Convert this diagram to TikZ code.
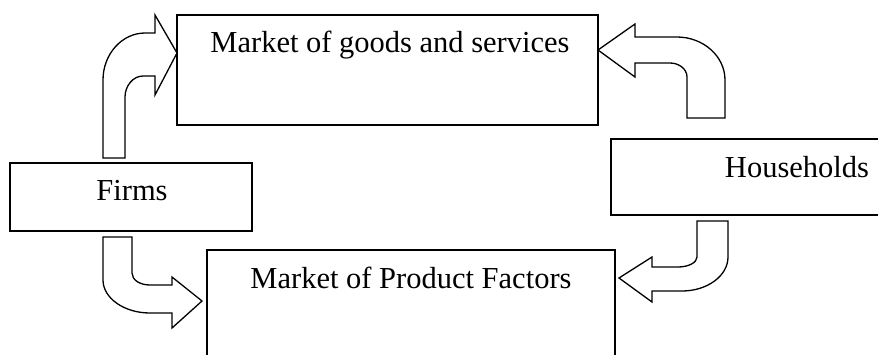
\documentclass[tikz,border=0pt]{standalone}
\usepackage{fontspec}
\setmainfont{Liberation Serif}
\begin{document}
\begin{tikzpicture}[x=1pt,y=-1pt,
  box/.style={draw, line width=1.3pt, rectangle, inner sep=0pt, outer sep=0pt},
  lbl/.style={anchor=base, inner sep=0pt, font=\fontsize{30.5}{36}\selectfont},
  blockarrow/.style={draw, line width=1.3pt, fill=white, line join=miter}]
\useasboundingbox (0,0) rectangle (878,354);
\clip (0,0) rectangle (878,354);
% boxes
\node[box, minimum width=421pt, minimum height=110pt] (mgs) at (387.5,70) {};
\node[box, minimum width=242pt, minimum height=68pt] (firms) at (131,197) {};
\node[box, minimum width=284pt, minimum height=76pt] (hh) at (753,177) {};
\node[box, minimum width=408pt, minimum height=120pt] (mpf) at (411,310) {};
% labels
\node[lbl] (tmgs) at (390,52) {Market of goods and services};
\node[lbl] (tfirms) at (132,200) {Firms};
\node[lbl] (thh) at (797,177) {Households};
\node[lbl] (tmpf) at (411,288) {Market of Product Factors};
% arrow: firms up to market of goods
\draw[blockarrow] (103,158) -- (103,80) .. controls (103,54) and (122,33) .. (145,33)
  -- (155,33) -- (155,15) -- (177,53) -- (155,95) -- (155,76) -- (143,76)
  .. controls (133,76) and (125,86) .. (125,97) -- (125,158) -- cycle;
% arrow: households up to market of goods
\draw[blockarrow] (725,118) -- (725,80) .. controls (725,56) and (703,37) .. (677,37)
  -- (635,37) -- (635,24) -- (598,50) -- (635,77) -- (635,63) -- (670,63)
  .. controls (679,63) and (687,69) .. (687,77) -- (687,118) -- cycle;
% arrow: firms down to market of product factors
\draw[blockarrow] (103,237) -- (103,280) .. controls (103,298) and (124,313) .. (150,313)
  -- (172,313) -- (172,328) -- (202,301) -- (172,277) -- (172,285) -- (150,285)
  .. controls (140,285) and (132,280) .. (132,273) -- (132,237) -- cycle;
% arrow: households down to market of product factors
\draw[blockarrow] (728,221) -- (728,257) .. controls (728,276) and (707,291) .. (682,291)
  -- (652,291) -- (652,302) -- (619,278) -- (652,257) -- (652,267) -- (678,267)
  .. controls (688.5,267) and (697,262.5) .. (697,257) -- (697,221) -- cycle;
\end{tikzpicture}
\end{document}
